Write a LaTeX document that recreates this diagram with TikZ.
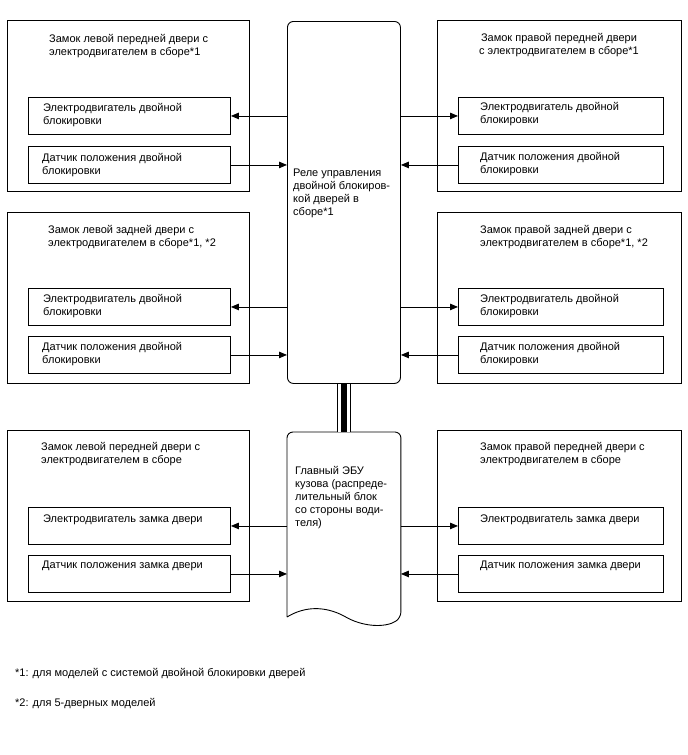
\documentclass[tikz,border=0pt]{standalone}
\usepackage{fontspec}
\setmainfont{Liberation Sans}
\usetikzlibrary{arrows.meta}

\begin{document}
\begin{tikzpicture}[x=1pt,y=-1pt,
  box/.style={draw,line width=0.9pt,anchor=north west,inner sep=0pt},
  outer/.style={box,minimum width=242pt,minimum height=171pt},
  part/.style={box,minimum width=202pt,minimum height=37pt},
  txt/.style={anchor=north west,inner sep=0pt,align=left,
    font=\fontsize{11}{13}\selectfont,execute at begin node=\strut},
  arr/.style={line width=0.9pt,-{Triangle[length=8pt,width=6.5pt]}}]
\useasboundingbox (0,0) rectangle (688,755);
% Блок реле и главный ЭБУ
\node[box,rounded corners=6pt,minimum width=113pt,minimum height=362pt] (relay) at (287,21) {};
\node[box,draw=none,minimum width=113pt,minimum height=195pt] (ecu) at (287,432) {};
\draw[line width=0.9pt,rounded corners=6pt] (ecu.west |- 0,617) -- (ecu.north west) -- (ecu.north east) -- (ecu.east |- 0,618)
  [sharp corners] .. controls (385,628) and (362,627) .. (344,616) .. controls (325,606) and (305,606) .. (ecu.west |- 0,617);
\draw[line width=14pt] (relay.south) -- (ecu.north);
\draw[line width=12pt,white] (relay.south) -- (ecu.north);
\draw[line width=6pt] (relay.south) -- (ecu.north);
\node[txt] (relaytxt) at (293,169) {Реле управления\\двойной блокиров-\\кой дверей в\\сборе*1};
\node[txt] (ecutxt) at (295,466) {Главный ЭБУ\\кузова (распреде-\\лительный блок\\со стороны води-\\теля)};
% Левая сторона
\node[outer] (lf) at (7,20) {};
\node[outer] (lr) at (7,212) {};
\node[outer] (lb) at (7,430) {};
\node[part] (lfm) at (28,97) {};
\node[part] (lfs) at (28,146) {};
\node[part] (lrm) at (28,288) {};
\node[part] (lrs) at (28,336) {};
\node[part] (lbm) at (28,507) {};
\node[part] (lbs) at (28,555) {};
\node[txt] (lft) at (49,34) {Замок левой передней двери с\\электродвигателем в сборе*1};
\node[txt] (lrt) at (48,225) {Замок левой задней двери с\\электродвигателем в сборе*1, *2};
\node[txt] (lbt) at (41,442) {Замок левой передней двери с\\электродвигателем в сборе};
\node[txt] (lfmt) at (43,103) {Электродвигатель двойной\\блокировки};
\node[txt] (lfst) at (42,153) {Датчик положения двойной\\блокировки};
\node[txt] (lrmt) at (43,294) {Электродвигатель двойной\\блокировки};
\node[txt] (lrst) at (42,342) {Датчик положения двойной\\блокировки};
\node[txt] (lbmt) at (43,513) {Электродвигатель замка двери};
\node[txt] (lbst) at (42,559) {Датчик положения замка двери};
% Правая сторона
\node[outer,minimum width=244pt] (rf) at (437,20) {};
\node[outer,minimum width=244pt] (rr) at (437,212) {};
\node[outer,minimum width=244pt] (rb) at (437,430) {};
\node[part,minimum width=205pt] (rfm) at (458,97) {};
\node[part,minimum width=205pt] (rfs) at (458,146) {};
\node[part,minimum width=205pt] (rrm) at (458,288) {};
\node[part,minimum width=205pt] (rrs) at (458,336) {};
\node[part,minimum width=205pt] (rbm) at (458,507) {};
\node[part,minimum width=205pt] (rbs) at (458,555) {};
\node[txt,anchor=north,align=center] (rft) at (559,33) {Замок правой передней двери\\с электродвигателем в сборе*1};
\node[txt] (rrt) at (480,225) {Замок правой задней двери с\\электродвигателем в сборе*1, *2};
\node[txt] (rbt) at (480,442) {Замок правой передней двери с\\электродвигателем в сборе};
\node[txt] (rfmt) at (480,102) {Электродвигатель двойной\\блокировки};
\node[txt] (rfst) at (480,152) {Датчик положения двойной\\блокировки};
\node[txt] (rrmt) at (480,294) {Электродвигатель двойной\\блокировки};
\node[txt] (rrst) at (480,342) {Датчик положения двойной\\блокировки};
\node[txt] (rbmt) at (480,513) {Электродвигатель замка двери};
\node[txt] (rbst) at (480,559) {Датчик положения замка двери};
% Стрелки
\draw[arr] (relay.west |- lfm.east) -- (lfm.east);
\draw[arr] (lfs.east) -- (relay.west |- lfs.east);
\draw[arr] (relay.west |- lrm.east) -- (lrm.east);
\draw[arr] (lrs.east) -- (relay.west |- lrs.east);
\draw[arr] (ecu.west |- lbm.east) -- (lbm.east);
\draw[arr] (lbs.east) -- (ecu.west |- lbs.east);
\draw[arr] (relay.east |- rfm.west) -- (rfm.west);
\draw[arr] (rfs.west) -- (relay.east |- rfs.west);
\draw[arr] (relay.east |- rrm.west) -- (rrm.west);
\draw[arr] (rrs.west) -- (relay.east |- rrs.west);
\draw[arr] (ecu.east |- rbm.west) -- (rbm.west);
\draw[arr] (rbs.west) -- (ecu.east |- rbs.west);
% Примечания
\node[txt] (note1) at (15,667) {*1: для моделей с системой двойной блокировки дверей};
\node[txt] (note2) at (15,697) {*2: для 5-дверных моделей};
\end{tikzpicture}
\end{document}
